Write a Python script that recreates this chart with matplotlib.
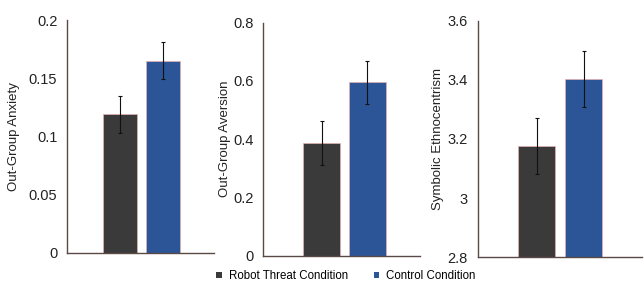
import matplotlib
matplotlib.use("Agg")
import matplotlib.pyplot as plt
from matplotlib.patches import Patch

conditions = ["Robot Threat Condition", "Control Condition"]
anxiety = [0.119, 0.165]
anxiety_err = [0.016, 0.016]
aversion = [0.386, 0.595]
aversion_err = [0.076, 0.075]
ethno = [3.177, 3.403]
ethno_err = [0.095, 0.095]

ylabels = ["Out-Group Anxiety", "Out-Group Aversion", "Symbolic Ethnocentrism"]
ylims = [(0, 0.2), (0, 0.8), (2.8, 3.6)]
yticks = [[0, 0.05, 0.1, 0.15, 0.2], [0, 0.2, 0.4, 0.6, 0.8], [2.8, 3.0, 3.2, 3.4, 3.6]]
yticklabels = [["0", "0.05", "0.1", "0.15", "0.2"], ["0", "0.2", "0.4", "0.6", "0.8"],
               ["2.8", "3", "3.2", "3.4", "3.6"]]

colors = ["#3a3a3a", "#2b5597"]
plt.rcParams['font.family'] = ['Liberation Sans', 'DejaVu Sans']

W, H = 644, 283
fig = plt.figure(figsize=(W / 100, H / 100), dpi=100)
fig.patch.set_facecolor("white")

# pixel boxes: left, right, top, bottom
boxes = [(67, 214, 20, 253), (263.3, 420, 22.7, 255.7), (477.7, 641.7, 20.7, 257.3)]
xlims = [(-1.247, 2.21), (-1.278, 2.15), (-1.255, 2.234)]
widths = [0.8, 0.8, 0.78]
data = [(anxiety, anxiety_err), (aversion, aversion_err), (ethno, ethno_err)]
labelx = [20, 231, 444]

for i in range(3):
    l, r, t, b = boxes[i]
    ax = fig.add_axes([l / W, (H - b) / H, (r - l) / W, (b - t) / H])
    ax.set_facecolor("none")
    vals, errs = data[i]
    base = ylims[i][0]
    ax.bar(range(2), [v - base for v in vals], bottom=base, width=widths[i],
           color=colors, edgecolor="#e8b0b0", linewidth=0.5)
    ax.errorbar(range(2), vals, yerr=errs, fmt="none", ecolor="#111111",
                elinewidth=0.8, capsize=1.5, capthick=0.8)
    ax.set_ylim(*ylims[i])
    ax.set_xlim(*xlims[i])
    ax.set_yticks(yticks[i])
    ax.set_yticklabels(yticklabels[i])
    ax.set_xticks([])
    ax.tick_params(axis="y", length=0, pad=7, labelsize=10.5, colors="#222222")
    for s in ["top", "right"]:
        ax.spines[s].set_visible(False)
    for s in ["left", "bottom"]:
        ax.spines[s].set_color("#5a4a45")
        ax.spines[s].set_linewidth(1.0)
    ax.set_ylabel(ylabels[i], fontsize=9.5, color="#222222")
    ax.yaxis.set_label_coords((labelx[i] - l) / (r - l), 0.5)

handles = [Patch(facecolor=c, edgecolor="none") for c in colors]
fig.legend(handles, conditions, loc="center", bbox_to_anchor=(346 / W, (H - 276) / H),
           ncol=2, frameon=False, fontsize=8.3, handlelength=0.5, handleheight=0.5,
           handletextpad=0.6, columnspacing=2.2, borderpad=0)

fig.savefig("out.png", dpi=100, facecolor="white")
